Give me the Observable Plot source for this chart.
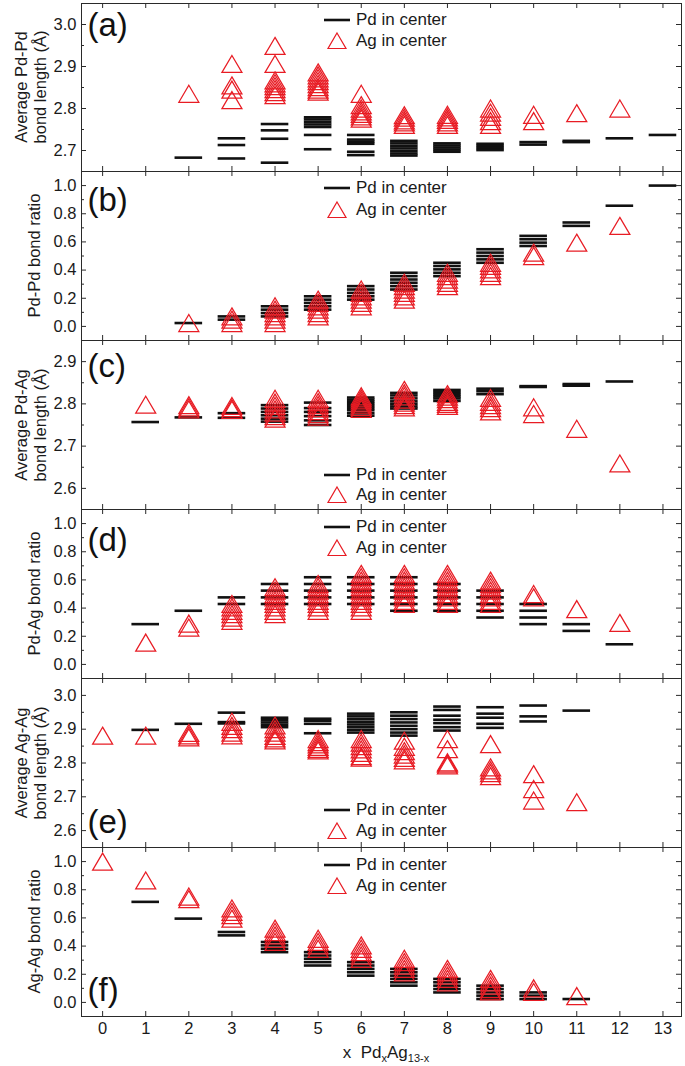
<!DOCTYPE html>
<html><head><meta charset="utf-8">
<script src="https://cdn.jsdelivr.net/npm/d3@7"></script>
<script src="https://cdn.jsdelivr.net/npm/@observablehq/plot@0.6"></script>
<style>
html,body{margin:0;padding:0;background:#fff;}
#chart{position:relative;width:685px;height:1066px;overflow:hidden;font-family:"Liberation Sans",Arial,Helvetica,sans-serif;color:#1a1a1a;}
.panel{position:absolute;left:0;}
.ytitle{position:absolute;text-align:center;font-size:16.5px;line-height:19px;transform:rotate(-90deg);transform-origin:center center;white-space:nowrap;}
.leg{position:absolute;left:320px;height:20px;display:flex;align-items:center;font-size:17px;white-space:nowrap;}
.leg svg{display:block;flex:none;}
.xtitle{position:absolute;left:236px;width:300px;text-align:center;font-size:17px;line-height:20px;}
.xtitle sub{font-size:11px;vertical-align:-4px;line-height:0;}
</style></head>
<body><div id="chart"></div>
<script>
// ---------- data (index of each outer array = x in PdxAg13-x) ----------
const xCategories = [0,1,2,3,4,5,6,7,8,9,10,11,12,13];

// (a) Average Pd-Pd bond length (Å)
const pdpdLenPdCenter = [[],[],[2.683],[2.729,2.713,2.681],[2.763,2.748,2.728,2.671],
  [2.779,2.774,2.768,2.762,2.756,2.737,2.703],[2.737,2.726,2.721,2.716,2.697,2.689],
  [2.723,2.717,2.711,2.705,2.699,2.693,2.688],[2.717,2.712,2.707,2.702,2.697],
  [2.716,2.711,2.706,2.701],[2.72,2.714],[2.723,2.72],[2.729],[2.737]];
const pdpdLenAgCenter = [[],[],[2.835],[2.906,2.855,2.845,2.82],
  [2.949,2.906,2.867,2.86,2.853,2.846,2.839,2.832],
  [2.886,2.879,2.872,2.865,2.858,2.851,2.845,2.84],
  [2.835,2.808,2.8,2.793,2.787,2.781,2.776],[2.784,2.778,2.772,2.767,2.761],
  [2.785,2.779,2.773,2.767,2.761],[2.8,2.79,2.78,2.77,2.761],[2.785,2.77],[2.789],[2.8],[]];

// (b) Pd-Pd bond ratio
const pdpdRatioPdCenter = [[],[],[0.024],[0.071,0.048],[0.143,0.119,0.095,0.071],
  [0.214,0.19,0.167,0.143,0.119],[0.286,0.262,0.238,0.214,0.19],
  [0.381,0.357,0.333,0.31,0.286,0.262],[0.452,0.429,0.405,0.381,0.357],
  [0.548,0.524,0.5,0.476,0.452],[0.643,0.619,0.595,0.571],[0.738,0.714],[0.857],[1.0]];
const pdpdRatioAgCenter = [[],[],[0.024],[0.071,0.048,0.024],[0.143,0.119,0.095,0.071,0.048,0.024],
  [0.19,0.167,0.143,0.119,0.095,0.071],[0.262,0.238,0.214,0.19,0.167,0.143],
  [0.31,0.286,0.262,0.238,0.214,0.19],[0.381,0.357,0.333,0.31,0.286],
  [0.452,0.429,0.405,0.381,0.357],[0.524,0.5],[0.595],[0.714],[]];

// (c) Average Pd-Ag bond length (Å)
const pdagLenPdCenter = [[],[2.757],[2.768],[2.778,2.767],[2.797,2.789,2.781,2.773,2.765,2.758],
  [2.803,2.79,2.781,2.771,2.761,2.75],[2.815,2.81,2.805,2.8,2.795,2.79,2.785,2.778,2.772],
  [2.826,2.82,2.813,2.806,2.8,2.794,2.789],[2.833,2.828,2.823,2.818,2.813,2.807],
  [2.836,2.83,2.823],[2.842,2.84],[2.847,2.843],[2.853],[]];
const pdagLenAgCenter = [[],[2.798],[2.797,2.792,2.787],[2.795,2.79,2.786],
  [2.812,2.803,2.795,2.787,2.779,2.771,2.765],[2.812,2.804,2.797,2.79,2.783,2.776,2.77],
  [2.818,2.813,2.808,2.803,2.798,2.793,2.788],[2.833,2.825,2.818,2.81,2.803,2.797,2.792],
  [2.823,2.817,2.811,2.805,2.8,2.795],[2.814,2.805,2.797,2.79,2.782],[2.792,2.776],[2.741],[2.659],[]];

// (d) Pd-Ag bond ratio
const pdagRatioPdCenter = [[],[0.286],[0.381],[0.476,0.429],[0.571,0.524,0.476,0.429],
  [0.619,0.571,0.524,0.476,0.429],[0.619,0.571,0.524,0.476,0.429],
  [0.619,0.571,0.524,0.476,0.429,0.381],[0.571,0.524,0.476,0.429,0.381],
  [0.524,0.476,0.429,0.381,0.333],[0.429,0.381,0.333,0.286],[0.286,0.238],[0.143],[]];
const pdagRatioAgCenter = [[],[0.155],[0.29,0.262],[0.429,0.405,0.381,0.357,0.333,0.31],
  [0.548,0.524,0.5,0.476,0.452,0.429,0.405,0.381,0.357],
  [0.571,0.548,0.524,0.5,0.476,0.452,0.429,0.405,0.381],
  [0.643,0.619,0.595,0.571,0.548,0.524,0.5,0.476,0.452,0.429,0.405,0.381],
  [0.643,0.619,0.595,0.571,0.548,0.524,0.5,0.476,0.452,0.429],
  [0.643,0.619,0.595,0.571,0.548,0.524,0.5,0.476,0.452,0.429],
  [0.595,0.571,0.548,0.524,0.5,0.476,0.452,0.429],[0.5,0.476],[0.393],[0.295],[]];

// (e) Average Ag-Ag bond length (Å)
const agagLenPdCenter = [[],[2.898],[2.916],[2.949,2.921,2.917],[2.934,2.927,2.92,2.913,2.906],
  [2.931,2.925,2.916,2.888],[2.946,2.938,2.93,2.922,2.914,2.906,2.898,2.89],
  [2.95,2.94,2.93,2.92,2.91,2.9,2.89,2.881],[2.967,2.957,2.94,2.928,2.918,2.906,2.896],
  [2.965,2.946,2.934,2.916,2.904],[2.97,2.938,2.923],[2.955],[],[]];
const agagLenAgCenter = [[2.881],[2.881],[2.889,2.882,2.876],[2.922,2.91,2.9,2.89,2.882],
  [2.911,2.9,2.89,2.88,2.873,2.867],[2.871,2.862,2.855,2.848,2.842,2.837],
  [2.871,2.86,2.85,2.84,2.83,2.82,2.816],[2.866,2.848,2.835,2.825,2.815,2.808],
  [2.871,2.841,2.802,2.798,2.793],[2.856,2.787,2.778,2.77,2.761],[2.767,2.723,2.689],[2.684],[],[]];

// (f) Ag-Ag bond ratio
const agagRatioPdCenter = [[],[0.714],[0.595],[0.5,0.476],[0.429,0.405,0.381,0.357],
  [0.357,0.333,0.31,0.286,0.262],[0.286,0.262,0.238,0.214,0.19],
  [0.238,0.214,0.19,0.167,0.143,0.119],[0.167,0.143,0.119,0.095,0.071],
  [0.119,0.095,0.071,0.048,0.024],[0.071,0.048,0.024],[0.024],[],[]];
const agagRatioAgCenter = [[1.0],[0.866],[0.752,0.733],[0.667,0.643,0.619,0.595],
  [0.524,0.5,0.476,0.452,0.429],[0.452,0.429,0.405,0.381],[0.405,0.381,0.357,0.333,0.31],
  [0.31,0.286,0.262,0.238,0.214],[0.238,0.214,0.19,0.167,0.143],
  [0.167,0.143,0.119,0.095,0.079],[0.1,0.074],[0.045],[],[]];

// ---------- panel text / axes ----------
const panelLetters = ["(a)","(b)","(c)","(d)","(e)","(f)"];
const yTitles = [["Average Pd-Pd","bond length (Å)"],["Pd-Pd bond ratio"],["Average Pd-Ag","bond length (Å)"],
  ["Pd-Ag bond ratio"],["Average Ag-Ag","bond length (Å)"],["Ag-Ag bond ratio"]];
const yDomains = [[2.65,3.05],[-0.1,1.1],[2.55,2.95],[-0.1,1.1],[2.55,3.05],[-0.1,1.1]];
const yMajorTicks = [[2.7,2.8,2.9,3.0],[0,0.2,0.4,0.6,0.8,1.0],[2.6,2.7,2.8,2.9],
  [0,0.2,0.4,0.6,0.8,1.0],[2.6,2.7,2.8,2.9,3.0],[0,0.2,0.4,0.6,0.8,1.0]];
const yMinorTicks = [[2.75,2.85,2.95],[0.1,0.3,0.5,0.7,0.9],[2.65,2.75,2.85],
  [0.1,0.3,0.5,0.7,0.9],[2.65,2.75,2.85,2.95],[0.1,0.3,0.5,0.7,0.9]];
const legendLabels = ["Pd in center","Ag in center"];

const series = [
  [pdpdLenPdCenter, pdpdLenAgCenter],[pdpdRatioPdCenter, pdpdRatioAgCenter],
  [pdagLenPdCenter, pdagLenAgCenter],[pdagRatioPdCenter, pdagRatioAgCenter],
  [agagLenPdCenter, agagLenAgCenter],[agagRatioPdCenter, agagRatioAgCenter]];

// ---------- layout ----------
const W = 685, ML = 81, MR = 4, innerW = W - ML - MR;
const tops = [3,171,340,509,678,847], bottoms = [171,340,509,678,847,1016];
const xDomain = [-0.49, 13.43];
const letterDy = [21.8,28.8,25.6,30.6,144.1,142.8];
const legendY = [[20,40.7],[188.3,210],[475,495],[526.7,547.7],[810,830.7],[865,886]];
const RED = "#e81c24", AX = "#2a2a2a";

const tri = {draw(ctx){ ctx.moveTo(0,-8.5); ctx.lineTo(10,8.5); ctx.lineTo(-10,8.5); ctx.closePath(); }};
const flat = arr => arr.flatMap((vals, x) => vals.map(v => ({x: xCategories[x], v})));

const chart = document.getElementById("chart");

series.forEach(([pdArr, agArr], i) => {
  const h = bottoms[i] - tops[i];
  const last = i === 5;
  const mb = last ? 34 : 1;
  const pd = flat(pdArr), ag = flat(agArr);
  const marks = [
    Plot.ruleY(pd, {y: "v", x1: d => d.x - 0.32, x2: d => d.x + 0.32, stroke: "#111", strokeWidth: 2.6}),
    Plot.dot(ag, {x: "x", y: "v", symbol: tri, r: 8, stroke: RED, strokeWidth: 1.25, fill: "none"}),
    Plot.tickY(yMajorTicks[i], {y: d => d, insetRight: innerW - 5, stroke: AX}),
    Plot.tickY(yMajorTicks[i], {y: d => d, insetLeft: innerW - 5, stroke: AX}),
    Plot.tickY(yMinorTicks[i], {y: d => d, insetRight: innerW - 3, stroke: AX}),
    Plot.tickY(yMinorTicks[i], {y: d => d, insetLeft: innerW - 3, stroke: AX}),
    Plot.tickX(xCategories, {x: d => d, insetBottom: h - 5, stroke: AX}),
    Plot.tickX(xCategories, {x: d => d, insetTop: h - 5, stroke: AX}),
    Plot.frame({stroke: AX, strokeWidth: 1}),
    Plot.axisY(yMajorTicks[i], {tickSize: 0, tickPadding: 5, tickFormat: d3.format(".1f"), label: null, fontSize: 16.5, fill: "#1a1a1a"}),
    Plot.text([panelLetters[i]], {frameAnchor: "top-left", dx: 6, dy: letterDy[i], textAnchor: "start", lineAnchor: "middle", fontSize: 33, fill: "#111"})
  ];
  if (last) marks.push(Plot.axisX(xCategories, {tickSize: 0, tickPadding: 6, label: null, fontSize: 16.5, fill: "#1a1a1a"}));
  const svg = Plot.plot({
    width: W, height: h + 1 + mb,
    marginLeft: ML, marginRight: MR, marginTop: 1, marginBottom: mb,
    x: last ? {domain: xDomain} : {domain: xDomain, axis: null},
    y: {domain: yDomains[i]},
    style: {background: "transparent", fontFamily: "'Liberation Sans', Arial, sans-serif", fontSize: "16px", overflow: "visible"},
    marks
  });
  svg.classList.add("panel");
  svg.style.top = (tops[i] - 1) + "px";
  chart.appendChild(svg);

  // y title
  const lines = yTitles[i];
  const t = document.createElement("div");
  t.className = "ytitle";
  const cx = lines.length === 2 ? 30.5 : 34, cy = (tops[i] + bottoms[i]) / 2;
  const tw = 200, th = lines.length * 19;
  t.style.width = tw + "px"; t.style.height = th + "px";
  t.style.left = (cx - tw / 2) + "px"; t.style.top = (cy - th / 2) + "px";
  t.innerHTML = lines.join("<br>");
  chart.appendChild(t);

  // legend
  const [y1, y2] = legendY[i];
  const l1 = document.createElement("div");
  l1.className = "leg"; l1.style.top = (y1 - 10) + "px";
  l1.innerHTML = `<svg width="36" height="20"><line x1="4" x2="30" y1="10" y2="10" stroke="#111" stroke-width="2.6"/></svg><span>${legendLabels[0]}</span>`;
  const l2 = document.createElement("div");
  l2.className = "leg"; l2.style.top = (y2 - 10) + "px";
  l2.innerHTML = `<svg width="36" height="20"><path d="M17,2 L26,17.5 L8,17.5 Z" fill="none" stroke="${RED}" stroke-width="1.2"/></svg><span>${legendLabels[1]}</span>`;
  chart.appendChild(l1); chart.appendChild(l2);
});

const xt = document.createElement("div");
xt.className = "xtitle";
xt.style.top = "1043px";
xt.innerHTML = "x&nbsp;&nbsp;Pd<sub>x</sub>Ag<sub>13-x</sub>";
chart.appendChild(xt);
</script></body></html>
